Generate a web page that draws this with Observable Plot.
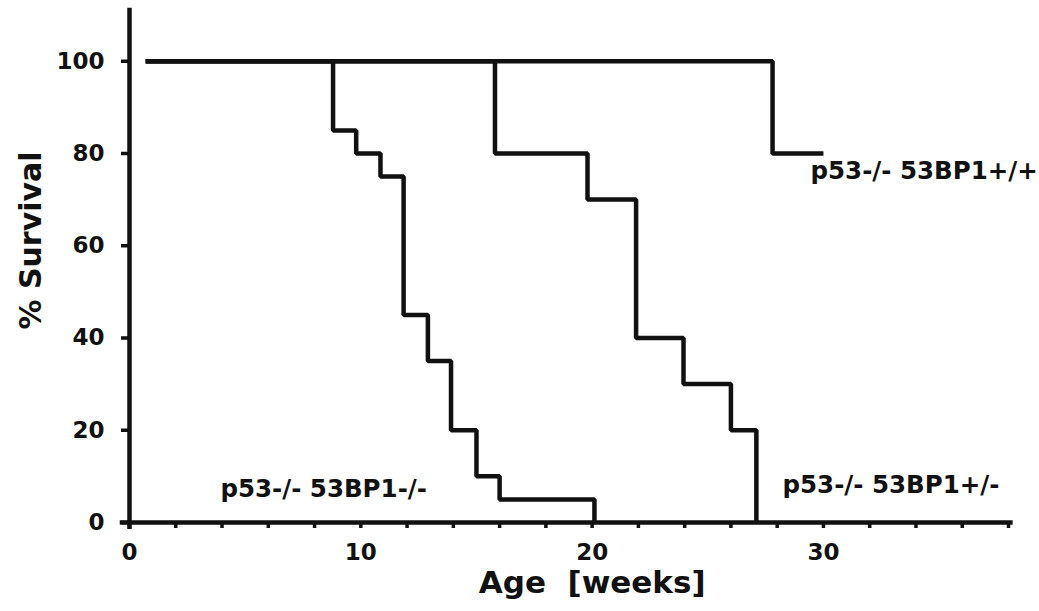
<!DOCTYPE html>
<html>
<head>
<meta charset="utf-8">
<script src="https://cdn.jsdelivr.net/npm/d3@7"></script>
<script src="https://cdn.jsdelivr.net/npm/@observablehq/plot@0.6"></script>
<style>
  html, body { margin: 0; padding: 0; background: #fff; }
  svg { display: block; }
</style>
</head>
<body>
<div id="chart"></div>
<script>
// Kaplan–Meier survival data (age in weeks, % survival)
const groups = ["p53-/- 53BP1-/-", "p53-/- 53BP1+/-", "p53-/- 53BP1+/+"];
const ageKO  = [0.7, 8.8, 9.8, 10.85, 11.85, 12.9, 13.9, 15.0, 16.0, 20.1];
const survKO = [100, 85, 80, 75, 45, 35, 20, 10, 5, 0];
const ageHet  = [0.7, 15.8, 19.8, 21.9, 23.95, 26.0, 27.1];
const survHet = [100, 80, 70, 40, 30, 20, 0];
const ageWT  = [0.7, 27.8, 30.0];
const survWT = [100, 80, 80];

// axis ticks
const yTicks = [0, 20, 40, 60, 80, 100];
const xMinorTicks = d3.range(0, 39, 2);
const xLabelTicks = [0, 10, 20, 30];

// annotation anchors (age, % survival)
const labelAge  = [3.93, 28.23, 29.44];
const labelSurv = [7.3, 8.0, 76.1];

const rows = [];
[[ageKO, survKO], [ageHet, survHet], [ageWT, survWT]].forEach(([a, s], i) => {
  a.forEach((age, j) => rows.push({group: groups[i], age, surv: s[j]}));
});
const labels = groups.map((g, i) => ({group: g, age: labelAge[i], surv: labelSurv[i]}));

const ink = "#111";
const chart = Plot.plot({
  width: 1039,
  height: 611,
  marginLeft: 129,
  marginRight: 31,
  marginTop: 10,
  marginBottom: 89,
  style: {fontFamily: "DejaVu Sans", fontWeight: "bold", fontSize: "23px", color: ink, background: "#fff"},
  x: {domain: [0, 38]},
  y: {domain: [0, 111]},
  marks: [
    Plot.axisY({ticks: yTicks, tickSize: 8, tickPadding: 17, strokeWidth: 3.5, label: null, fontSize: 23}),
    Plot.axisX({ticks: xMinorTicks, tickSize: 6, tickPadding: 15, strokeWidth: 3.5, label: null, fontSize: 23,
                tickFormat: d => xLabelTicks.includes(d) ? String(d) : ""}),
    Plot.ruleX([0], {y1: -1.5, y2: 111.5, stroke: ink, strokeWidth: 4.5}),
    Plot.ruleY([0], {x1: -0.4, x2: 38.2, stroke: ink, strokeWidth: 4.5}),
    Plot.line(rows, {x: "age", y: "surv", z: "group", curve: "step-after",
                     stroke: ink, strokeWidth: 4.5, strokeLinejoin: "miter", strokeLinecap: "butt"}),
    Plot.text(labels, {x: "age", y: "surv", text: "group", textAnchor: "start", lineAnchor: "middle",
                       fontSize: 24.5, fontWeight: "bold", fill: ink}),
    Plot.text([20], {x: d => d, frameAnchor: "bottom", dy: 61, text: () => "Age\u00a0\u00a0[weeks]",
                     textAnchor: "middle", lineAnchor: "middle", fontSize: 31, fontWeight: "bold", fill: ink}),
    Plot.text(["% Survival"], {frameAnchor: "left", dx: -98, dy: -26, text: d => d, rotate: -90,
                     textAnchor: "middle", lineAnchor: "middle", fontSize: 30, fontWeight: "bold", fill: ink})
  ]
});
document.getElementById("chart").appendChild(chart);
</script>
</body>
</html>
